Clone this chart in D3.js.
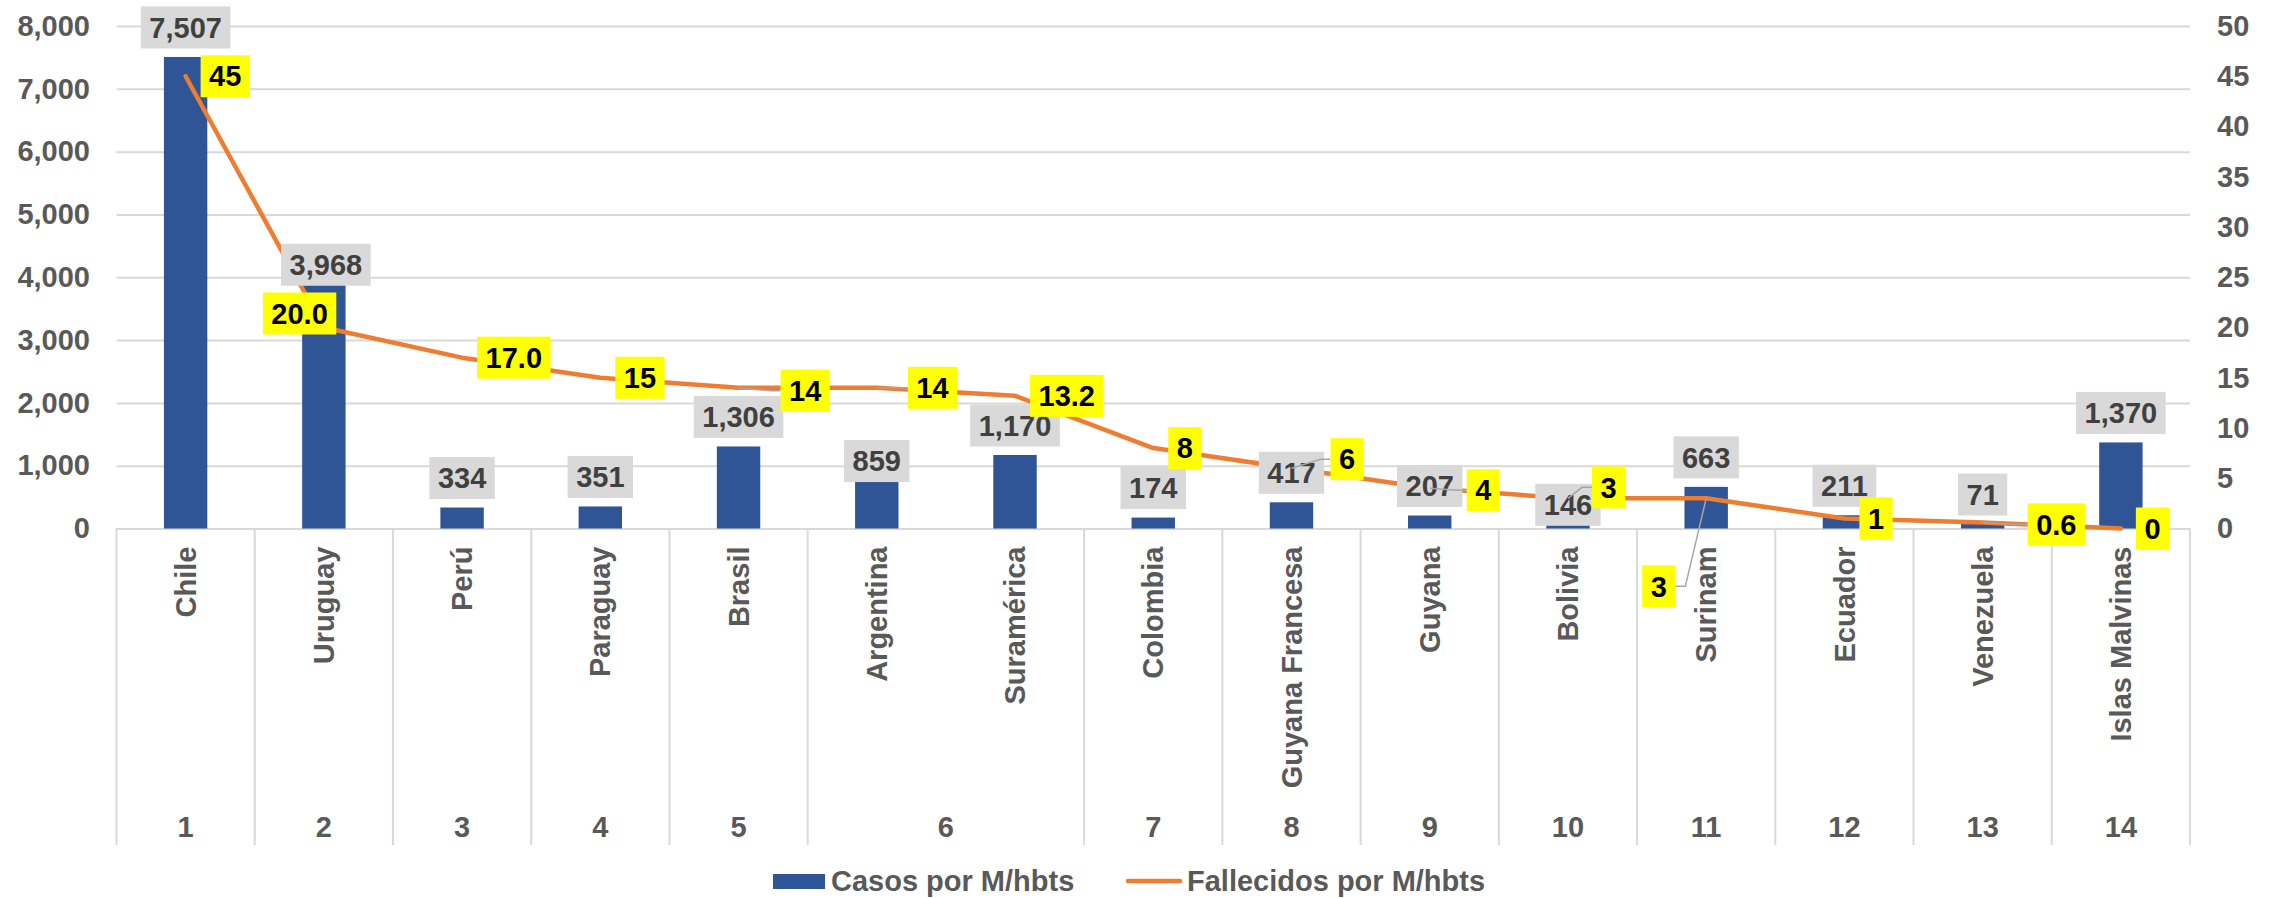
<!DOCTYPE html>
<html>
<head>
<meta charset="utf-8">
<script src="https://cdnjs.cloudflare.com/ajax/libs/d3/7.8.5/d3.min.js"></script>
<style>
  body { margin: 0; background: #fff; }
  text { font-family: "Liberation Sans", Arial, sans-serif; font-weight: bold; }
</style>
</head>
<body>
<div id="chart"></div>
<script>
// ---- data ----
const countries = ["Chile", "Uruguay", "Perú", "Paraguay", "Brasil", "Argentina", "Suramérica",
  "Colombia", "Guyana Francesa", "Guyana", "Bolivia", "Surinam", "Ecuador", "Venezuela", "Islas Malvinas"];
const ranks = [1, 2, 3, 4, 5, 6, 6, 7, 8, 9, 10, 11, 12, 13, 14];
const casos = [7507, 3968, 334, 351, 1306, 859, 1170, 174, 417, 207, 146, 663, 211, 71, 1370];
const fallecidos = [45, 20.0, 17.0, 15, 14, 14, 13.2, 8, 6, 4, 3, 3, 1, 0.6, 0];
const fallecidosText = ["45", "20.0", "17.0", "15", "14", "14", "13.2", "8", "6", "4", "3", "3", "1", "0.6", "0"];
const leftTicks = [0, 1000, 2000, 3000, 4000, 5000, 6000, 7000, 8000];
const rightTicks = [0, 5, 10, 15, 20, 25, 30, 35, 40, 45, 50];
const seriesNames = ["Casos por M/hbts", "Fallecidos por M/hbts"];

// labels that were dragged by hand in the original sheet (px offsets)
const barLabelNudge = [[0,0],[2,15],[0,0],[0,0],[0,0],[0,16],[0,0],[0,0],[0,0],[0,0],[0,15],[0,0],[0,0],[0,0],[0,0]];
const lineLabelNudge = [[0,0],[-76,-14],[0,0],[0,0],[27,3],[16,0],[0,0],[0,0],[24,-9],[22,2],[9,-11],[-79,88],[0,0],[30,2],[0,0]];

const W = 2269, H = 898;
const plotL = 116.5, plotR = 2190, plotT = 26, plotB = 528.5;
const grey = "#595959", gridCol = "#D9D9D9";
const blue = "#2F5597", orange = "#ED7D31";

const svg = d3.select("#chart")
              .append("svg")
              .attr("width", W)
              .attr("height", H)
              .style("background", "#fff");

const x = d3.scaleBand()
            .domain(countries)
            .range([plotL, plotR])
            .padding(0);

const yL = d3.scaleLinear().domain([0, 8000]).range([plotB, plotT]);
const yR = d3.scaleLinear().domain([0, 50]).range([plotB, plotT]);

const bw = x.bandwidth();
const cx = (c) => x(c) + bw / 2;

// gridlines
svg.append("g")
   .attr("transform", "translate(" + plotL + ",0)")
   .call(d3.axisLeft(yL).tickValues(leftTicks).tickSize(-(plotR - plotL)).tickFormat(""))
   .call(g => g.select(".domain").remove())
   .selectAll("line")
   .attr("stroke", gridCol)
   .attr("stroke-width", 2);

// left axis labels
svg.append("g")
   .attr("transform", "translate(" + plotL + ",0)")
   .call(d3.axisLeft(yL).tickValues(leftTicks).tickSize(0).tickPadding(26.5).tickFormat(d3.format(",")))
   .call(g => g.select(".domain").remove())
   .selectAll("text")
   .attr("fill", grey)
   .style("font-size", "29px");

// right axis labels
svg.append("g")
   .attr("transform", "translate(" + plotR + ",0)")
   .call(d3.axisRight(yR).tickValues(rightTicks).tickSize(0).tickPadding(27))
   .call(g => g.select(".domain").remove())
   .selectAll("text")
   .attr("fill", grey)
   .style("font-size", "29px");

// category axis (names rotated)
const xAxis = svg.append("g")
   .attr("transform", "translate(0," + plotB + ")")
   .call(d3.axisBottom(x).tickSize(0).tickSizeOuter(0));
xAxis.select(".domain")
     .attr("stroke", gridCol)
     .attr("stroke-width", 2);
xAxis.selectAll("text")
     .attr("transform", "rotate(-90)")
     .attr("text-anchor", "end")
     .attr("x", -18)
     .attr("y", 0)
     .attr("dy", "0.35em")
     .attr("fill", grey)
     .style("font-size", "29px");

// second level: group the ranks
const groups = [];
countries.forEach((c, i) => {
  const last = groups[groups.length - 1];
  if (last && last.rank === ranks[i]) {
    last.x1 = x(c) + bw;
  } else {
    groups.push({rank: ranks[i], x0: x(c), x1: x(c) + bw});
  }
});

const sepX = groups.map(g => g.x0).concat([plotR]);
svg.append("g")
   .selectAll("line")
   .data(sepX)
   .join("line")
   .attr("x1", d => d).attr("x2", d => d)
   .attr("y1", plotB).attr("y2", 845)
   .attr("stroke", gridCol)
   .attr("stroke-width", 2);

svg.append("g")
   .selectAll("text")
   .data(groups)
   .join("text")
   .attr("x", d => (d.x0 + d.x1) / 2)
   .attr("y", 827)
   .attr("dy", "0.35em")
   .attr("text-anchor", "middle")
   .attr("fill", grey)
   .style("font-size", "29px")
   .text(d => d.rank);

// bars
const barW = bw * 0.314;
svg.append("g")
   .selectAll("rect")
   .data(casos)
   .join("rect")
   .attr("x", (d, i) => cx(countries[i]) - barW / 2)
   .attr("y", d => yL(d))
   .attr("width", barW)
   .attr("height", d => plotB - yL(d))
   .attr("fill", blue);

// line
const line = d3.line()
               .x((d, i) => cx(countries[i]))
               .y(d => yR(d));

svg.append("path")
   .datum(fallecidos)
   .attr("d", line)
   .attr("fill", "none")
   .attr("stroke", orange)
   .attr("stroke-width", 4.5)
   .attr("stroke-linejoin", "round")
   .attr("stroke-linecap", "round");

const boxH = 42, padX = 8.5;

// bar labels (grey boxes above bars)
const barLab = svg.append("g")
   .selectAll("g")
   .data(casos)
   .join("g")
   .attr("transform", (d, i) => {
     const n = barLabelNudge[i];
     return "translate(" + (cx(countries[i]) + n[0]) + "," + (yL(d) - 8.5 - boxH / 2 + n[1]) + ")";
   });
barLab.append("rect").attr("fill", "#D9D9D9");
barLab.append("text")
      .attr("text-anchor", "middle")
      .attr("dy", "0.35em")
      .attr("fill", "#404040")
      .style("font-size", "29px")
      .text(d => d3.format(",")(d));
barLab.each(function() {
  const t = d3.select(this).select("text").node().getComputedTextLength();
  d3.select(this).select("rect")
    .attr("x", -t / 2 - padX).attr("y", -boxH / 2)
    .attr("width", t + 2 * padX).attr("height", boxH);
});

// line labels: work out box positions first so leader lines can go under them
const leaderG = svg.append("g");
const lineLab = svg.append("g")
   .selectAll("g")
   .data(fallecidos)
   .join("g");
lineLab.append("rect").attr("fill", "#FFFF00");
lineLab.append("text")
       .attr("text-anchor", "middle")
       .attr("dy", "0.35em")
       .attr("fill", "#000")
       .style("font-size", "29px")
       .text((d, i) => fallecidosText[i]);

lineLab.each(function(d, i) {
  const sel = d3.select(this);
  const t = sel.select("text").node().getComputedTextLength();
  const w = t + 2 * padX;
  const px = cx(countries[i]), py = yR(d);
  const n = lineLabelNudge[i];
  const bx = px + 15 + n[0];
  const by = py + n[1];
  sel.attr("transform", "translate(" + (bx + w / 2) + "," + by + ")");
  sel.select("rect")
     .attr("x", -w / 2).attr("y", -boxH / 2)
     .attr("width", w).attr("height", boxH);

  // leader line when the point sits outside the moved label
  const moved = Math.abs(n[0]) + Math.abs(n[1]) > 5;
  const inside = px >= bx && px <= bx + w && py >= by - boxH / 2 && py <= by + boxH / 2;
  if (moved && !inside) {
    const ex = px < bx ? bx : bx + w;
    const kx = px < bx ? ex - 10 : ex + 10;
    leaderG.append("path")
           .attr("d", "M" + px + "," + py + "L" + kx + "," + by + "L" + ex + "," + by)
           .attr("fill", "none")
           .attr("stroke", "#A6A6A6")
           .attr("stroke-width", 1.5);
  }
});

// legend
const legend = svg.append("g");
legend.append("rect")
      .attr("x", 773).attr("y", 874)
      .attr("width", 52).attr("height", 15)
      .attr("fill", blue);
legend.append("text")
      .attr("x", 831).attr("y", 881).attr("dy", "0.35em")
      .attr("fill", grey)
      .style("font-size", "29px")
      .text(seriesNames[0]);
legend.append("line")
      .attr("x1", 1128).attr("x2", 1180)
      .attr("y1", 881).attr("y2", 881)
      .attr("stroke", orange)
      .attr("stroke-width", 4.5)
      .attr("stroke-linecap", "round");
legend.append("text")
      .attr("x", 1187).attr("y", 881).attr("dy", "0.35em")
      .attr("fill", grey)
      .style("font-size", "29px")
      .text(seriesNames[1]);
</script>
</body>
</html>
